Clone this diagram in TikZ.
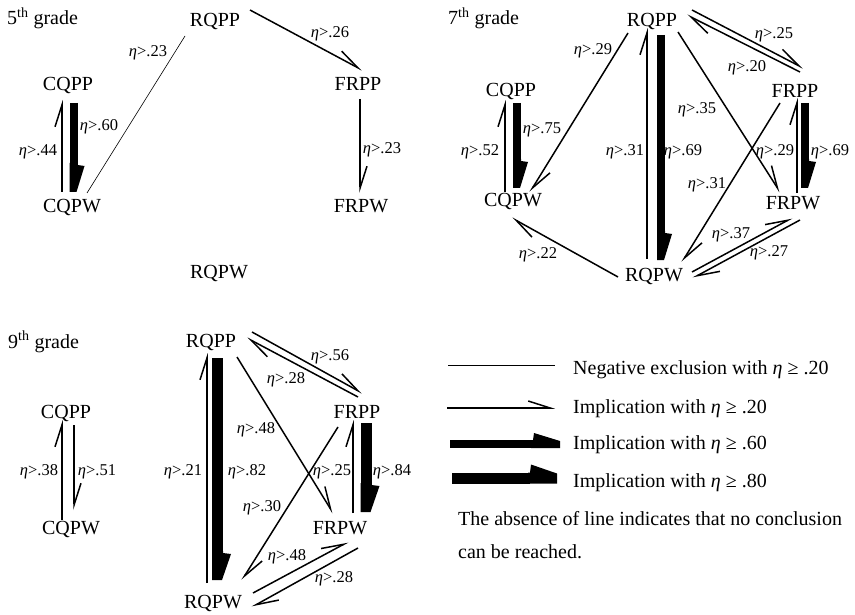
\documentclass[tikz,border=0pt]{standalone}
\usepackage{fontspec}
\setmainfont{Liberation Serif}
\usetikzlibrary{arrows.meta}

\pgfdeclarearrow{
  name = FlagA,
  setup code = {
    \pgfarrowssettipend{0pt}
    \pgfarrowssetlineend{-27bp}
    \pgfarrowssetbackend{-29bp}
    \pgfarrowshullpoint{0pt}{-4bp}
    \pgfarrowshullpoint{0pt}{3bp}
    \pgfarrowshullpoint{-26bp}{11bp}
    \pgfarrowshullpoint{-29bp}{-4bp}
  },
  drawing code = {
    \pgfpathmoveto{\pgfqpoint{-29bp}{-4bp}}
    \pgfpathlineto{\pgfqpoint{0bp}{-4bp}}
    \pgfpathlineto{\pgfqpoint{0bp}{3bp}}
    \pgfpathlineto{\pgfqpoint{-26bp}{11bp}}
    \pgfpathlineto{\pgfqpoint{-27bp}{4bp}}
    \pgfpathlineto{\pgfqpoint{-29bp}{4bp}}
    \pgfpathclose
    \pgfusepathqfill
  }
}
\pgfdeclarearrow{
  name = FlagB,
  setup code = {
    \pgfarrowssettipend{0pt}
    \pgfarrowssetlineend{-27bp}
    \pgfarrowssetbackend{-29bp}
    \pgfarrowshullpoint{0pt}{-5.5bp}
    \pgfarrowshullpoint{0pt}{4.5bp}
    \pgfarrowshullpoint{-26bp}{13.5bp}
    \pgfarrowshullpoint{-29bp}{-5.5bp}
  },
  drawing code = {
    \pgfpathmoveto{\pgfqpoint{-29bp}{-5.5bp}}
    \pgfpathlineto{\pgfqpoint{0bp}{-5.5bp}}
    \pgfpathlineto{\pgfqpoint{0bp}{4.5bp}}
    \pgfpathlineto{\pgfqpoint{-26bp}{13.5bp}}
    \pgfpathlineto{\pgfqpoint{-27bp}{5.5bp}}
    \pgfpathlineto{\pgfqpoint{-29bp}{5.5bp}}
    \pgfpathclose
    \pgfusepathqfill
  }
}

\newcommand\ETA[1]{{\itshape η}>.#1}

\tikzset{
  imp/.style={line width=1.5bp, -{Straight Barb[harpoon,length=22bp,width=14bp,line width=1.5bp]}},
  thickA/.style={line width=8bp, -FlagA},
  thickB/.style={line width=11bp, -FlagB},
  neg/.style={line width=0.6bp},
  nd/.style={font=\fontsize{20bp}{22bp}\selectfont, inner sep=0pt, text height=13.2bp, text depth=0pt},
  lbl/.style={font=\fontsize{16.5bp}{18bp}\selectfont, inner sep=0pt},
  ttl/.style={font=\fontsize{20bp}{22bp}\selectfont, inner sep=0pt, anchor=base west},
  leg/.style={font=\fontsize{20bp}{22bp}\selectfont, inner sep=0pt, anchor=base west},
  note/.style={font=\fontsize{20bp}{22bp}\selectfont, inner sep=0pt, anchor=base west},
}

\begin{document}
\begin{tikzpicture}[x=1bp, y=-1bp]
\useasboundingbox (0,0) rectangle (855,615);

% ---------- 5th grade ----------
\node[ttl] (t5) at (7,25) {5\textsuperscript{th} grade};
\node[nd] (r5p) at (215,20) {RQPP};
\node[nd] (f5p) at (358,84) {FRPP};
\node[nd] (c5p) at (68,84) {CQPP};
\node[nd] (c5w) at (72,206) {CQPW};
\node[nd] (f5w) at (361,206) {FRPW};
\node[nd] (r5w) at (219,272) {RQPW};

\draw[imp] ([shift={(35,-10)}]r5p.center) -- ([shift={(4,-14)}]f5p.center);
\draw[neg] ([shift={(-30,16)}]r5p.center) -- ([shift={(15,-13)}]c5w.center);
\draw[imp] ([shift={(-10,-14)}]c5w.center) -- ([shift={(-6,16)}]c5p.center);
\draw[thickA] ([shift={(5.5,19)}]c5p.center) -- ([shift={(1.5,-14)}]c5w.center);
\draw[imp] ([shift={(2,15)}]f5p.center) -- ([shift={(-1,-13)}]f5w.center);

\node[lbl] (l5a) at (330,34) {\ETA{26}};
\node[lbl] (l5b) at (148,53) {\ETA{23}};
\node[lbl] (l5c) at (38,152) {\ETA{44}};
\node[lbl] (l5d) at (99,127) {\ETA{60}};
\node[lbl] (l5e) at (382,150) {\ETA{23}};

% ---------- 7th grade ----------
\node[ttl] (t7) at (448,25) {7\textsuperscript{th} grade};
\node[nd] (r7p) at (652,20) {RQPP};
\node[nd] (c7p) at (511,90) {CQPP};
\node[nd] (c7w) at (513,200) {CQPW};
\node[nd] (f7p) at (795,91) {FRPP};
\node[nd] (f7w) at (793,203) {FRPW};
\node[nd] (r7w) at (654,275) {RQPW};

\draw[imp] ([shift={(-24,13)}]r7p.center) -- ([shift={(17,-8)}]c7w.center);
\draw[imp] ([shift={(-36,2)}]r7w.center) -- ([shift={(-1,18)}]c7w.center);
\draw[imp] ([shift={(-8,-8)}]c7w.center) -- ([shift={(-6,10)}]c7p.center);
\draw[thickA] ([shift={(6,13)}]c7p.center) -- ([shift={(4,-12)}]c7w.center);
\draw[imp] ([shift={(-7,-16)}]r7w.center) -- ([shift={(-5,8)}]r7p.center);
\draw[thickA] ([shift={(9,15)}]r7p.center) -- ([shift={(7,-15)}]r7w.center);
\draw[imp] ([shift={(26,12)}]r7p.center) -- ([shift={(-13,-11)}]f7w.center);
\draw[imp] ([shift={(-15,12)}]f7p.center) -- ([shift={(28,-13)}]r7w.center);
\draw[imp] ([shift={(40,-10)}]r7p.center) -- ([shift={(8,-23)}]f7p.center);
\draw[imp] ([shift={(5,-19)}]f7p.center) -- ([shift={(35,-5)}]r7p.center);
\draw[imp] ([shift={(4,-10)}]f7w.center) -- ([shift={(2,7)}]f7p.center);
\draw[thickA] ([shift={(10,12)}]f7p.center) -- ([shift={(12,-15)}]f7w.center);
\draw[imp] ([shift={(38,-3)}]r7w.center) -- ([shift={(-1,15)}]f7w.center);
\draw[imp] ([shift={(7,17)}]f7w.center) -- ([shift={(39,3)}]r7w.center);

\node[lbl] (l7a) at (593,51) {\ETA{29}};
\node[lbl] (l7b) at (538,255) {\ETA{22}};
\node[lbl] (l7c) at (480,152) {\ETA{52}};
\node[lbl] (l7d) at (542,130) {\ETA{75}};
\node[lbl] (l7e) at (625,152) {\ETA{31}};
\node[lbl] (l7f) at (683,152) {\ETA{69}};
\node[lbl] (l7g) at (697,110) {\ETA{35}};
\node[lbl] (l7h) at (707,185) {\ETA{31}};
\node[lbl] (l7i) at (774,35) {\ETA{25}};
\node[lbl] (l7j) at (747,68) {\ETA{20}};
\node[lbl] (l7k) at (775,152) {\ETA{29}};
\node[lbl] (l7l) at (830,152) {\ETA{69}};
\node[lbl] (l7m) at (731,235) {\ETA{37}};
\node[lbl] (l7n) at (769,253) {\ETA{27}};

% ---------- 9th grade ----------
\node[ttl] (t9) at (8,348) {9\textsuperscript{th} grade};
\node[nd] (r9p) at (211,341) {RQPP};
\node[nd] (c9p) at (66,412) {CQPP};
\node[nd] (c9w) at (71,528) {CQPW};
\node[nd] (f9p) at (357,412) {FRPP};
\node[nd] (f9w) at (340,528) {FRPW};
\node[nd] (r9w) at (213,602) {RQPW};

\draw[imp] ([shift={(-9,-8)}]c9w.center) -- ([shift={(-4,8)}]c9p.center);
\draw[imp] ([shift={(8,13)}]c9p.center) -- ([shift={(3,-18)}]c9w.center);
\draw[imp] ([shift={(-6,-19)}]r9w.center) -- ([shift={(-4,12)}]r9p.center);
\draw[thickB] ([shift={(6.5,17)}]r9p.center) -- ([shift={(4.5,-22)}]r9w.center);
\draw[imp] ([shift={(41,-9)}]r9p.center) -- ([shift={(5,-19)}]f9p.center);
\draw[imp] ([shift={(1,-15)}]f9p.center) -- ([shift={(36,-3)}]r9p.center);
\draw[imp] ([shift={(26,16)}]r9p.center) -- ([shift={(-7,-15)}]f9w.center);
\draw[imp] ([shift={(-19,15)}]f9p.center) -- ([shift={(29,-22)}]r9w.center);
\draw[imp] ([shift={(13,-15)}]f9w.center) -- ([shift={(-4,8)}]f9p.center);
\draw[thickB] ([shift={(9,11)}]f9p.center) -- ([shift={(26,-16)}]f9w.center);
\draw[imp] ([shift={(40,-9)}]r9w.center) -- ([shift={(8,14)}]f9w.center);
\draw[imp] ([shift={(18,20)}]f9w.center) -- ([shift={(39,5)}]r9w.center);

\node[lbl] (l9a) at (39,472) {\ETA{38}};
\node[lbl] (l9b) at (97,472) {\ETA{51}};
\node[lbl] (l9c) at (183,472) {\ETA{21}};
\node[lbl] (l9d) at (247,472) {\ETA{82}};
\node[lbl] (l9e) at (330,357) {\ETA{56}};
\node[lbl] (l9f) at (286,380) {\ETA{28}};
\node[lbl] (l9g) at (256,430) {\ETA{48}};
\node[lbl] (l9h) at (262,508) {\ETA{30}};
\node[lbl] (l9i) at (332,472) {\ETA{25}};
\node[lbl] (l9j) at (392,472) {\ETA{84}};
\node[lbl] (l9k) at (287,557) {\ETA{48}};
\node[lbl] (l9l) at (334,579) {\ETA{28}};

% ---------- legend ----------
\coordinate (g1a) at (448,365); \coordinate (g1b) at (555,365);
\coordinate (g2a) at (447,408); \coordinate (g2b) at (555,408);
\coordinate (g3a) at (450,444); \coordinate (g3b) at (560,444);
\coordinate (g4a) at (452,478); \coordinate (g4b) at (557,478);
\draw[neg] (g1a) -- (g1b);
\draw[imp] (g2a) -- (g2b);
\draw[thickA] (g3a) -- (g3b);
\draw[thickB] (g4a) -- (g4b);
\node[leg] (e1) at (573,374) {Negative exclusion with {\itshape η} ≥ .20};
\node[leg] (e2) at (573,413) {Implication with {\itshape η} ≥ .20};
\node[leg] (e3) at (573,449) {Implication with {\itshape η} ≥ .60};
\node[leg] (e4) at (573,487) {Implication with {\itshape η} ≥ .80};
\node[note] (e5) at (458,525) {The absence of line indicates that no conclusion};
\node[note] (e6) at (458,558) {can be reached.};
\end{tikzpicture}
\end{document}
